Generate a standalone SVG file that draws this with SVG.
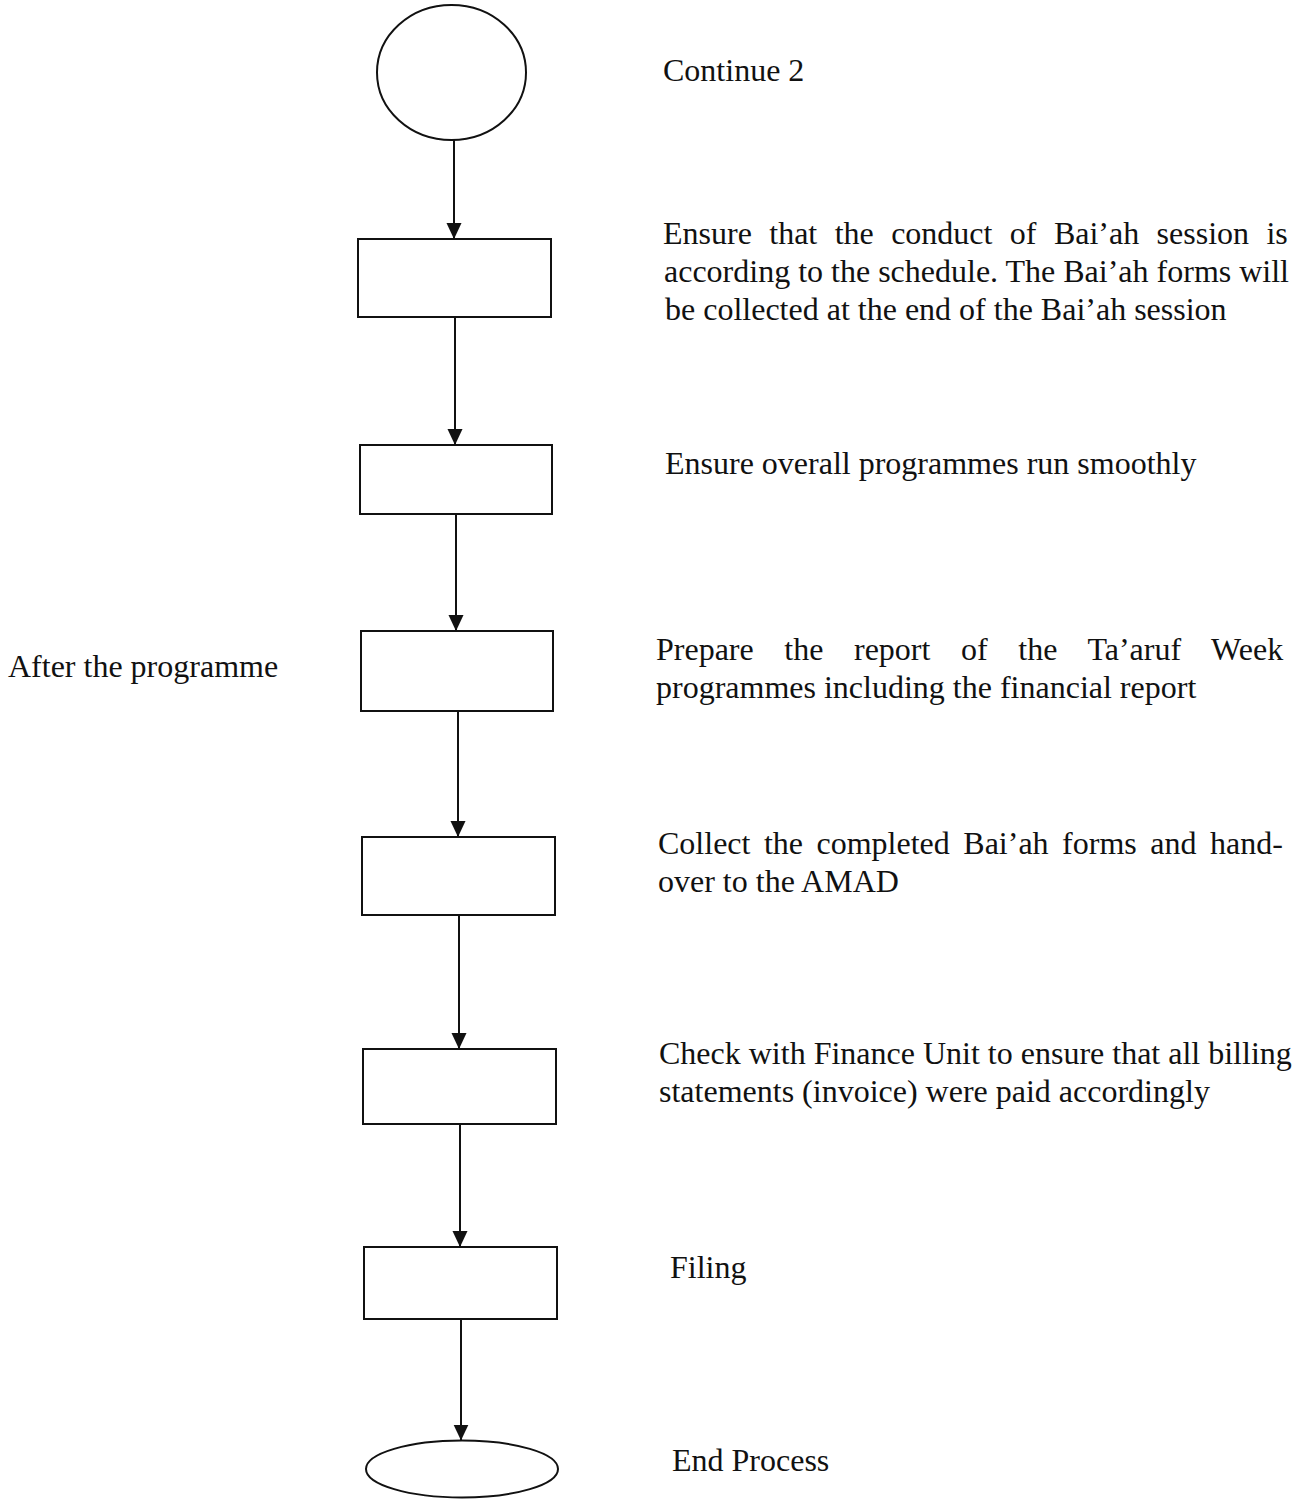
<svg xmlns="http://www.w3.org/2000/svg" width="1303" height="1499" viewBox="0 0 1303 1499">
<style>
.shape{fill:#fff;stroke:#111;stroke-width:2}
.conn{stroke:#111;stroke-width:2;fill:none}
.t{font-family:"Liberation Serif","Times New Roman",serif;font-size:32px;fill:#111}
</style>
<defs>
<marker id="arr" markerUnits="userSpaceOnUse" markerWidth="16" markerHeight="17" viewBox="0 0 17 16" refX="17" refY="8" orient="auto">
<path d="M0,0 L17,8 L0,16 Z" fill="#111"/>
</marker>
</defs>
<rect width="1303" height="1499" fill="#fff"/>
<g id="start">
<ellipse class="shape" cx="451.5" cy="72.5" rx="74.5" ry="67.5"/>
<text class="t" x="663" y="81">Continue 2</text>
</g>
<g id="step1">
<rect class="shape" x="358" y="239" width="193" height="78"/>
<text class="t" x="663" y="244" word-spacing="9.4">Ensure that the conduct of Bai’ah session is</text>
<text class="t" x="664" y="282">according to the schedule. The Bai’ah forms will</text>
<text class="t" x="665" y="320">be collected at the end of the Bai’ah session</text>
</g>
<g id="step2">
<rect class="shape" x="360" y="445" width="192" height="69"/>
<text class="t" x="665" y="474">Ensure overall programmes run smoothly</text>
</g>
<g id="step3">
<rect class="shape" x="361" y="631" width="192" height="80"/>
<text class="t" x="656" y="660" word-spacing="22.6">Prepare the report of the Ta’aruf Week</text>
<text class="t" x="656" y="698">programmes including the financial report</text>
</g>
<g id="phase">
<text class="t" x="8" y="677">After the programme</text>
</g>
<g id="step4">
<rect class="shape" x="362" y="837" width="193" height="78"/>
<text class="t" x="658" y="854" word-spacing="5.5">Collect the completed Bai’ah forms and hand-</text>
<text class="t" x="658" y="892">over to the AMAD</text>
</g>
<g id="step5">
<rect class="shape" x="363" y="1049" width="193" height="75"/>
<text class="t" x="659" y="1064">Check with Finance Unit to ensure that all billing</text>
<text class="t" x="659" y="1102">statements (invoice) were paid accordingly</text>
</g>
<g id="step6">
<rect class="shape" x="364" y="1247" width="193" height="72"/>
<text class="t" x="670" y="1278">Filing</text>
</g>
<g id="end">
<ellipse class="shape" cx="462" cy="1469" rx="96" ry="28.5"/>
<text class="t" x="672" y="1471">End Process</text>
</g>
<g id="connectors">
<line class="conn" x1="454" y1="140" x2="454" y2="239" marker-end="url(#arr)"/>
<line class="conn" x1="455" y1="317" x2="455" y2="445" marker-end="url(#arr)"/>
<line class="conn" x1="456" y1="514" x2="456" y2="631" marker-end="url(#arr)"/>
<line class="conn" x1="458" y1="711" x2="458" y2="837" marker-end="url(#arr)"/>
<line class="conn" x1="459" y1="915" x2="459" y2="1049" marker-end="url(#arr)"/>
<line class="conn" x1="460" y1="1124" x2="460" y2="1247" marker-end="url(#arr)"/>
<line class="conn" x1="461" y1="1319" x2="461" y2="1440.5" marker-end="url(#arr)"/>
</g>
</svg>
